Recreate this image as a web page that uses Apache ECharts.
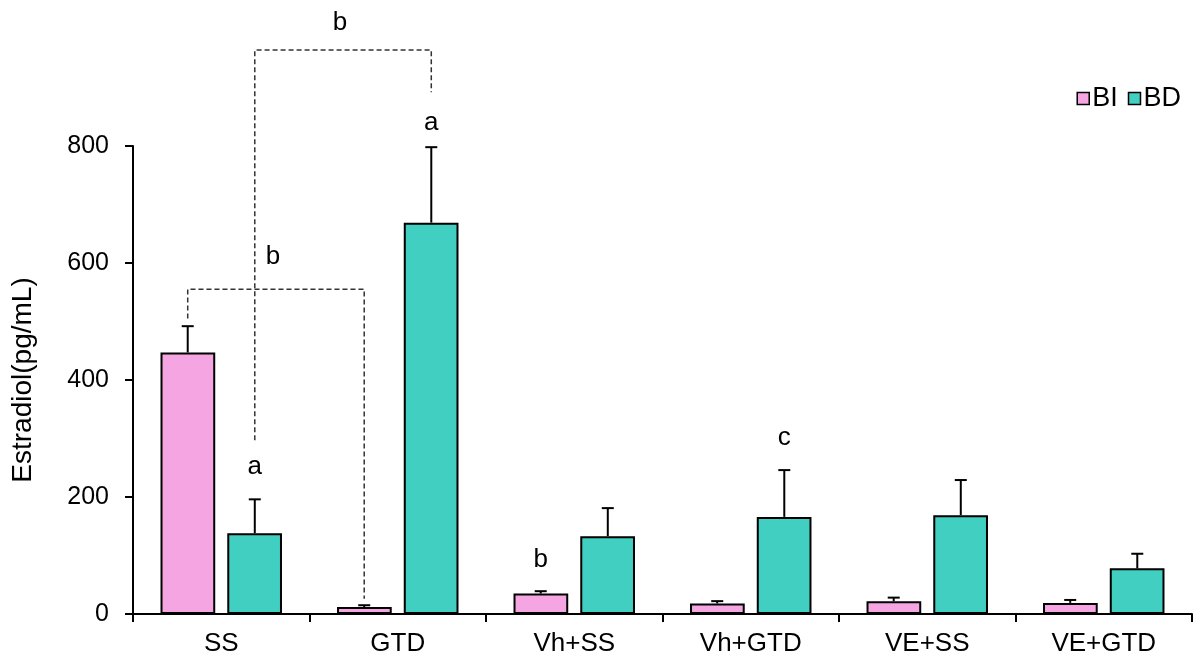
<!DOCTYPE html>
<html>
<head>
<meta charset="utf-8">
<script src="https://cdn.jsdelivr.net/npm/echarts@6/dist/echarts.min.js"></script>
<style>
html,body{margin:0;padding:0;background:#fff;}
#chart{width:1200px;height:662px;}
</style>
</head>
<body>
<div id="chart"></div>
<script>
// ---- data ----
const categories = ['SS', 'GTD', 'Vh+SS', 'Vh+GTD', 'VE+SS', 'VE+GTD'];
const seriesNames = ['BI', 'BD'];
const biMean = [447, 12, 35, 18, 22, 19];
const biSE   = [45, 3, 4, 4, 6, 5];
const bdMean = [138, 669, 133, 166, 169, 78];
const bdSE   = [58, 129, 48, 80, 60, 25];
const yTicks = [0, 200, 400, 600, 800];
// significance letters: [categoryIndex, seriesIndex, value, text]
const letters = [
  [0, 1, 251, 'a'],
  [1, 1, 839, 'a'],
  [2, 0, 93, 'b'],
  [3, 1, 301, 'c']
];
// dashed brackets: points as [categoryIndex, seriesIndex, value]; label value
const brackets = [
  { pts: [[0, 1, 297], [0, 1, 964], [1, 1, 964], [1, 1, 892]], labelValue: 1010, text: 'b' },
  { pts: [[0, 0, 505], [0, 0, 555], [1, 0, 555], [1, 0, 26]], labelValue: 611, text: 'b' }
];

const colors = ['#F5A6E2', '#41CFC1'];
const OFF = 0.19; // bar centre offset as a fraction of band width
const FONT = 'Liberation Sans, Arial, sans-serif';
const FS = 25;
const FS2 = 26;

function xOf(api, cat, s, v) {
  const band = api.size([1, 0])[0];
  const c = api.coord([cat, v]);
  return [c[0] + (s === 0 ? -1 : 1) * band * OFF, c[1]];
}

const errData = [];
categories.forEach((c, i) => {
  errData.push([i, biMean[i] + biSE[i], biMean[i], 0]);
  errData.push([i, bdMean[i] + bdSE[i], bdMean[i], 1]);
});

const chart = echarts.init(document.getElementById('chart'));
chart.setOption({
  animation: false,
  backgroundColor: '#fff',
  textStyle: { fontFamily: FONT },
  grid: { left: 133, right: 8, top: 146, bottom: 48, containLabel: false },
  legend: {
    data: seriesNames,
    right: 14, top: 80,
    icon: 'rect', itemWidth: 12, itemHeight: 12, itemGap: 10,
    itemStyle: { borderColor: '#000', borderWidth: 1.5 },
    textStyle: { fontSize: 27, color: '#000', fontFamily: FONT, padding: [0, 0, 0, -2] }
  },
  xAxis: {
    type: 'category',
    data: categories,
    axisLine: { lineStyle: { color: '#000', width: 2 } },
    axisTick: { show: true, length: 8, lineStyle: { color: '#000', width: 2 } },
    axisLabel: { fontSize: FS2, color: '#000', margin: 17, fontFamily: FONT }
  },
  yAxis: {
    type: 'value',
    min: 0, max: 800, interval: 200,
    name: 'Estradiol(pg/mL)',
    nameLocation: 'middle',
    nameGap: 96,
    nameTextStyle: { fontSize: 28, color: '#000', fontFamily: FONT },
    axisLine: { show: true, lineStyle: { color: '#000', width: 2 } },
    axisTick: { show: true, length: 8, lineStyle: { color: '#000', width: 2 } },
    axisLabel: { fontSize: FS, color: '#000', margin: 24, fontFamily: FONT,
      formatter: v => yTicks.includes(v) ? String(v) : '' },
    splitLine: { show: false }
  },
  series: [
    {
      name: 'BI', type: 'bar', data: biMean, barWidth: '31%', barGap: '22%',
      itemStyle: { color: colors[0], borderColor: '#000', borderWidth: 2 }
    },
    {
      name: 'BD', type: 'bar', data: bdMean, barWidth: '31%', barGap: '22%',
      itemStyle: { color: colors[1], borderColor: '#000', borderWidth: 2 }
    },
    {
      type: 'custom', name: 'err', silent: true, z: 3,
      data: errData,
      encode: { x: 0, y: 1 },
      renderItem: function (params, api) {
        const cat = api.value(0), top = api.value(1), base = api.value(2), s = api.value(3);
        const p0 = xOf(api, cat, s, base);
        const p1 = xOf(api, cat, s, top);
        const style = { stroke: '#000', lineWidth: 2 };
        return {
          type: 'group',
          children: [
            { type: 'line', shape: { x1: p0[0], y1: p0[1], x2: p1[0], y2: p1[1] }, style },
            { type: 'line', shape: { x1: p1[0] - 6, y1: p1[1], x2: p1[0] + 6, y2: p1[1] }, style }
          ]
        };
      }
    },
    {
      type: 'custom', name: 'brackets', silent: true, z: 4,
      data: brackets.map((b, i) => [i]),
      renderItem: function (params, api) {
        const b = brackets[params.dataIndex];
        const pts = b.pts.map(p => xOf(api, p[0], p[1], p[2]));
        const midX = (pts[1][0] + pts[2][0]) / 2;
        const ly = api.coord([0, b.labelValue])[1];
        return {
          type: 'group',
          children: [
            { type: 'polyline', shape: { points: pts },
              style: { stroke: '#333', lineWidth: 1.5, lineDash: [5, 3], fill: null } },
            { type: 'text', x: midX - 3, y: ly,
              style: { text: b.text, fontSize: FS2, fill: '#000', fontFamily: FONT,
                align: 'center', verticalAlign: 'middle' } }
          ]
        };
      }
    },
    {
      type: 'custom', name: 'letters', silent: true, z: 4,
      data: letters.map(l => [l[0], l[2], l[1]]),
      renderItem: function (params, api) {
        const l = letters[params.dataIndex];
        const p = xOf(api, l[0], l[1], l[2]);
        return { type: 'text', x: p[0], y: p[1],
          style: { text: l[3], fontSize: FS2, fill: '#000', fontFamily: FONT,
            align: 'center', verticalAlign: 'middle' } };
      }
    }
  ]
});
</script>
</body>
</html>
